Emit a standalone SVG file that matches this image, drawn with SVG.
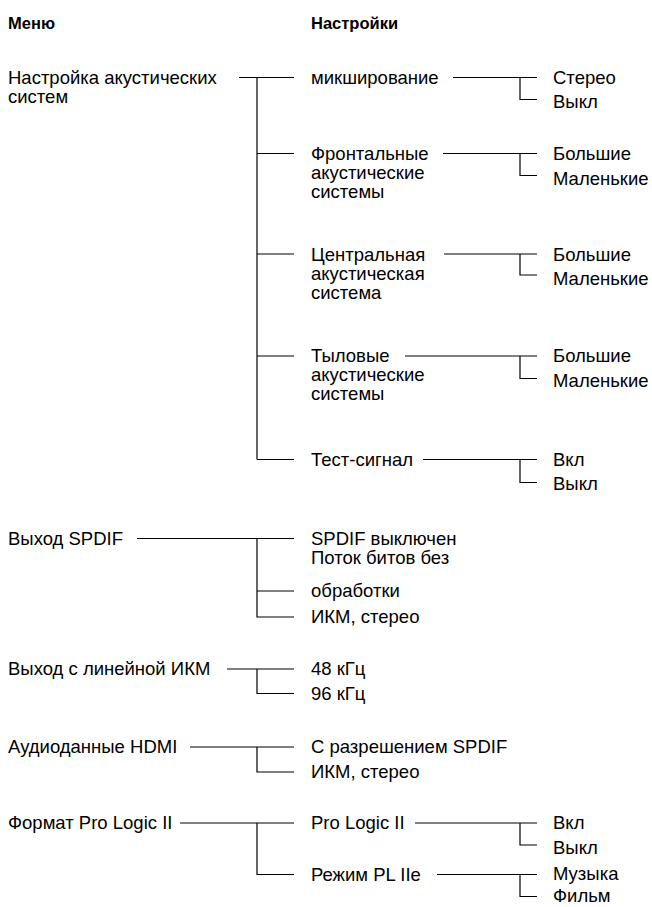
<svg xmlns="http://www.w3.org/2000/svg" width="652" height="907" viewBox="0 0 652 907">
<style>
text{font-family:"Liberation Sans",Arial,Helvetica,sans-serif;font-size:18.5px;fill:#000}
.h{font-weight:bold;font-size:16.5px}
.c path{fill:none;stroke:#000;stroke-width:1.2}
</style>
<rect width="652" height="907" fill="#fff"/>
<g id="headers">
<text class="h" x="8" y="28.5">Меню</text>
<text class="h" x="311" y="28.5">Настройки</text>
</g>
<g class="c" id="connectors">
<path d="M239,77.5H294M257,77.5V459.5M257,153.5H294M257,254H294M257,356H294M257,459.5H294"/>
<path d="M453,77.5H537M520,77.5V99.5H537"/>
<path d="M443,153.5H537M520,153.5V175.5H537"/>
<path d="M444,254H537M520,254V275H537"/>
<path d="M405,356H537M520,356V378.5H537"/>
<path d="M423,459.5H537M520,459.5V482.5H537"/>
<path d="M137,538.5H294M257,538.5V617H294M257,591H294"/>
<path d="M227,669H294M257,669V693.5H294"/>
<path d="M190,747H294M257,747V772H294"/>
<path d="M180,823H294M257,823V874.5H294"/>
<path d="M415,823H537M520,823V845H537"/>
<path d="M437,874.5H537M520,874.5V896.5H537"/>
</g>
<g id="n-speakers">
<text x="8" y="83.5">Настройка акустических</text>
<text x="8" y="102.5">систем</text>
</g>
<g id="n-mix"><text x="311" y="83.5">микширование</text></g>
<g id="n-mix-opts"><text x="553" y="83.5">Стерео</text><text x="553" y="108">Выкл</text></g>
<g id="n-front"><text x="311" y="159.5">Фронтальные</text><text x="311" y="178.5">акустические</text><text x="311" y="197.5">системы</text></g>
<g id="n-front-opts"><text x="553" y="159.5">Большие</text><text x="553" y="184.5">Маленькие</text></g>
<g id="n-center"><text x="311" y="260.5">Центральная</text><text x="311" y="279.5">акустическая</text><text x="311" y="298.5">система</text></g>
<g id="n-center-opts"><text x="553" y="260.5">Большие</text><text x="553" y="285">Маленькие</text></g>
<g id="n-rear"><text x="311" y="362">Тыловые</text><text x="311" y="381">акустические</text><text x="311" y="400">системы</text></g>
<g id="n-rear-opts"><text x="553" y="362">Большие</text><text x="553" y="387">Маленькие</text></g>
<g id="n-test"><text x="311" y="465.5">Тест-сигнал</text></g>
<g id="n-test-opts"><text x="553" y="465.5">Вкл</text><text x="553" y="490">Выкл</text></g>
<g id="n-spdif"><text x="8" y="544.5">Выход SPDIF</text></g>
<g id="n-spdif-opts"><text x="311" y="544.5">SPDIF выключен</text><text x="311" y="563.5">Поток битов без</text><text x="311" y="597">обработки</text><text x="311" y="623">ИКМ, стерео</text></g>
<g id="n-lpcm"><text x="8" y="675">Выход с линейной ИКМ</text></g>
<g id="n-lpcm-opts"><text x="311" y="675">48 кГц</text><text x="311" y="699.5">96 кГц</text></g>
<g id="n-hdmi"><text x="8" y="753">Аудиоданные HDMI</text></g>
<g id="n-hdmi-opts"><text x="311" y="753">С разрешением SPDIF</text><text x="311" y="778">ИКМ, стерео</text></g>
<g id="n-plii"><text x="8" y="829">Формат Pro Logic II</text></g>
<g id="n-plii-mode"><text x="311" y="829">Pro Logic II</text></g>
<g id="n-plii-opts"><text x="553" y="829">Вкл</text><text x="553" y="853.5">Выкл</text></g>
<g id="n-plie"><text x="311" y="880.5">Режим PL IIe</text></g>
<g id="n-plie-opts"><text x="553" y="880">Музыка</text><text x="553" y="902">Фильм</text></g>
</svg>
